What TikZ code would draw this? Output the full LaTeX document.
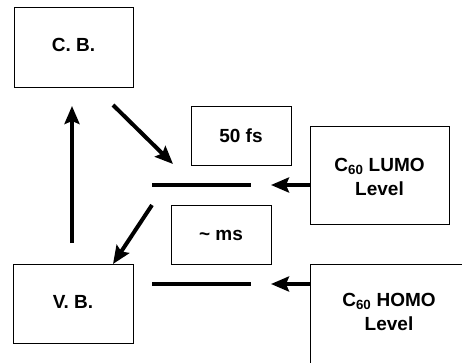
\documentclass[tikz,border=0pt]{standalone}
\usepackage{fontspec}
\setmainfont{Liberation Sans}
\usetikzlibrary{arrows.meta}
\tikzset{
  lbl/.style={font=\bfseries\fontsize{19}{24}\selectfont, align=center},
  boxline/.style={draw=black, line width=1pt},
  bigarrow/.style={line width=4pt, -{Stealth[length=18pt,width=15pt,inset=3pt]}},
  levelline/.style={line width=4pt}
}
\begin{document}
\begin{tikzpicture}[x=1pt,y=-1pt]
\useasboundingbox (0,0) rectangle (462,362);
\clip (0,0) rectangle (462,362);
% boxes
\draw[boxline] (14,7) rectangle (133,87);
\node[lbl] (cb) at (73.5,45) {C. B.};
\draw[boxline] (13,264) rectangle (133,343);
\node[lbl] (vb) at (73,302) {V. B.};
\draw[boxline] (191,106) rectangle (291,165);
\node[lbl] (fs) at (241,136) {50 fs};
\draw[boxline] (171,205) rectangle (271,264);
\node[lbl] (ms) at (221,235) {\char`~\ ms};
\draw[boxline] (310,126) rectangle (449,224);
\node[lbl] (lumo) at (379.5,177) {C\textsubscript{60} LUMO\\Level};
\draw[boxline] (310,264) rectangle (470,372);
\node[lbl] (homo) at (389,312) {C\textsubscript{60} HOMO\\Level};
% coordinates
\coordinate (vbtop) at (72,243);
\coordinate (cbbot) at (72,106);
\coordinate (d1s) at (113,105);
\coordinate (d1e) at (173,164);
\coordinate (d2s) at (152,205);
\coordinate (d2e) at (113,264);
\coordinate (u1) at (152,185);
\coordinate (u2) at (251,185);
\coordinate (l1) at (152,284);
\coordinate (l2) at (251,284);
\coordinate (la) at (310,185);
\coordinate (lt) at (271,185);
\coordinate (ha) at (310,284);
\coordinate (ht) at (271,284);
% level lines
\draw[levelline] (u1) -- (u2);
\draw[levelline] (l1) -- (l2);
% arrows
\draw[bigarrow, line width=3.5pt] (vbtop) -- (cbbot);
\draw[bigarrow] (d1s) -- (d1e);
\draw[bigarrow] (d2s) -- (d2e);
\draw[bigarrow, line width=3.5pt] (la) -- (lt);
\draw[bigarrow, line width=3.5pt] (ha) -- (ht);
\end{tikzpicture}
\end{document}
